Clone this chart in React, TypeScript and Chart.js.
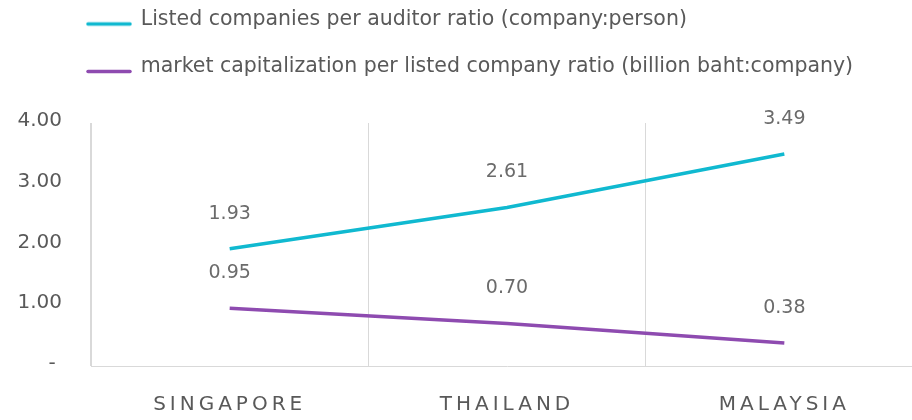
import React, { useEffect, useRef } from 'react';
import { Chart, registerables, CategoryScale } from 'chart.js';

Chart.register(...registerables);

const categories = ['SINGAPORE', 'THAILAND', 'MALAYSIA'];
const companiesPerAuditor = [1.93, 2.61, 3.49];
const marketCapPerCompany = [0.95, 0.7, 0.38];
const seriesNames = [
  'Listed companies per auditor ratio (company:person)',
  'market capitalization per listed company ratio (billion baht:company)',
];
const seriesColors = ['#10B9D0', '#8E4BB0'];
const yTickLabels = ['-', '1.00', '2.00', '3.00', '4.00'];

class SpacedCategoryScale extends CategoryScale {
  static id = 'spacedCategory';
  drawLabels(chartArea: any) {
    const ctx: any = this.ctx;
    ctx.save();
    ctx.letterSpacing = '4px';
    super.drawLabels(chartArea);
    ctx.restore();
  }
}
Chart.register(SpacedCategoryScale as any);

function makeLegendLine(color: string) {
  const c = document.createElement('canvas');
  c.width = 46;
  c.height = 20;
  const g = c.getContext('2d')!;
  g.strokeStyle = color;
  g.lineWidth = 3.5;
  g.lineCap = 'round';
  g.beginPath();
  g.moveTo(2, 14.5);
  g.lineTo(44, 14.5);
  g.stroke();
  return c;
}

const valueLabels = {
  id: 'valueLabels',
  afterDatasetsDraw(chart: any) {
    const ctx = chart.ctx;
    ctx.save();
    ctx.font = '19px "DejaVu Sans"';
    ctx.fillStyle = '#6b6b6b';
    ctx.textAlign = 'center';
    ctx.textBaseline = 'middle';
    chart.data.datasets.forEach((ds: any, i: number) => {
      const meta = chart.getDatasetMeta(i);
      meta.data.forEach((pt: any, j: number) => {
        ctx.fillText(Number(ds.data[j]).toFixed(2), pt.x, pt.y - 35);
      });
    });
    ctx.restore();
  },
};

const legendShift = {
  id: 'legendShift',
  afterLayout(chart: any) {
    const lg = chart.legend;
    if (lg) {
      lg.left = 60.5;
      lg.top = -17.75;
    }
  },
};

export default function App() {
  const ref = useRef<HTMLCanvasElement>(null);

  useEffect(() => {
    if (!ref.current) return;
    Chart.defaults.font.family = '"DejaVu Sans"';
    const legendImgs = seriesColors.map(makeLegendLine);
    const chart = new Chart(ref.current, {
      type: 'line',
      data: {
        labels: categories,
        datasets: [
          {
            label: seriesNames[0],
            data: companiesPerAuditor,
            borderColor: seriesColors[0],
            backgroundColor: seriesColors[0],
            borderWidth: 3.5,
            pointRadius: 0,
            pointHoverRadius: 0,
            tension: 0,
            fill: false,
          },
          {
            label: seriesNames[1],
            data: marketCapPerCompany,
            borderColor: seriesColors[1],
            backgroundColor: seriesColors[1],
            borderWidth: 3.5,
            pointRadius: 0,
            pointHoverRadius: 0,
            tension: 0,
            fill: false,
          },
        ],
      },
      options: {
        animation: false,
        responsive: true,
        maintainAspectRatio: false,
        layout: { padding: { top: 18, right: 7, left: 0, bottom: 0 } },
        plugins: {
          tooltip: { enabled: false },
          legend: {
            display: true,
            position: 'top',
            align: 'start',
            labels: {
              usePointStyle: true,
              pointStyleWidth: 43,
              padding: 27,
              color: '#595959',
              font: { size: 20.5 },
              generateLabels(ch: any) {
                const items = (Chart.defaults.plugins.legend.labels as any).generateLabels(ch);
                items.forEach((it: any, i: number) => {
                  it.pointStyle = legendImgs[i];
                });
                return items;
              },
            },
          },
        },
        scales: {
          x: {
            type: 'spacedCategory' as any,
            offset: true,
            grid: { display: true, offset: true, drawTicks: false, color: '#d9d9d9', lineWidth: 1 },
            border: { display: true, color: '#d9d9d9', width: 1 },
            ticks: { padding: 27, color: '#595959', font: { size: 20 }, maxRotation: 0, autoSkip: false },
            afterFit: (s: any) => {
              s.height = 54;
            },
          },
          y: {
            min: 0,
            max: 4,
            grid: { display: false, drawTicks: false },
            border: { display: true, color: '#d9d9d9', width: 1 },
            ticks: {
              stepSize: 1,
              padding: 29,
              labelOffset: -2,
              color: '#595959',
              font: { size: 20 },
              callback: (_v: any, i: number) => {
                const s = yTickLabels[i];
                return s === '-' ? '- ' : s;
              },
            },
            afterFit: (s: any) => {
              s.width = 91;
            },
          },
        },
      } as any,
      plugins: [valueLabels, legendShift],
    });
    return () => chart.destroy();
  }, []);

  return (
    <div
      style={{
        position: 'fixed',
        left: 0,
        top: 0,
        width: 912,
        height: 420,
        overflow: 'hidden',
        background: '#ffffff',
      }}
    >
      <div style={{ position: 'relative', width: 930, height: 420 }}>
        <canvas ref={ref} />
      </div>
    </div>
  );
}
